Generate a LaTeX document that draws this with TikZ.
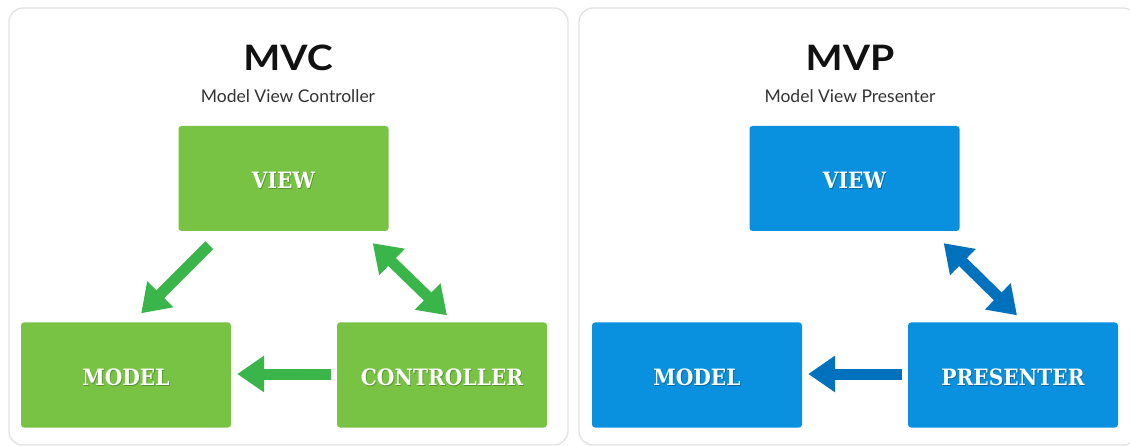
\documentclass[tikz,border=0pt]{standalone}
\usepackage{fontspec}
\usetikzlibrary{arrows.meta}
\setmainfont{Lato}
\newfontfamily\titlefont{Lato}
\newfontfamily\boxfont{DejaVu Serif Condensed}

\definecolor{panelline}{HTML}{E2E2E2}
\definecolor{mvcbox}{HTML}{78C244}
\definecolor{mvcarrow}{HTML}{39B54A}
\definecolor{mvcshade}{HTML}{55922F}
\definecolor{mvpbox}{HTML}{0990DE}
\definecolor{mvparrow}{HTML}{0071BC}
\definecolor{mvpshade}{HTML}{0B679F}
\definecolor{titleink}{HTML}{111111}
\definecolor{subink}{HTML}{333333}

% white label with a soft dark copy just below it
\newcommand{\shadowlabel}[2]{%
  \makebox[0pt][l]{\raisebox{-1.2pt}{\hspace{0.8pt}\textcolor{#1}{#2}}}%
  \textcolor{white}{#2}}

\tikzset{
  panel/.style={draw=panelline, line width=1.3pt, fill=white, rounded corners=14pt},
  block/.style={rounded corners=3pt, minimum width=210pt, minimum height=105pt,
    inner sep=0pt, text height=20pt, text depth=0pt,
    font=\boxfont\bfseries\fontsize{22.5}{25}\selectfont},
  mvcblock/.style={block, fill=mvcbox},
  mvpblock/.style={block, fill=mvpbox},
  heading/.style={font=\titlefont\bfseries\fontsize{35}{38}\selectfont, text=titleink, inner sep=0pt},
  subheading/.style={font=\fontsize{17.5}{20}\selectfont, text=subink, inner sep=0pt},
  flow/.style={line width=11pt, -{Triangle[width=35pt,length=27pt]}},
  twoway/.style={line width=11pt, {Triangle[width=35pt,length=27pt]}-{Triangle[width=35pt,length=27pt]}},
}

\begin{document}
\begin{tikzpicture}[x=1pt, y=-1pt]
\useasboundingbox (0,0) rectangle (1130,446);
\fill[white] (0,0) rectangle (1130,446);

% the two cards
\draw[panel] (9,8) rectangle (568,445);
\draw[panel] (579,8) rectangle (1137,445);

% ---- MVC ----
\node[heading] (mvctitle) at (288,58) {\scalebox{1.12}[1]{MVC}};
\node[subheading] (mvcsub) at (288,96) {Model View Controller};

\node[mvcblock] (cview) at (283.5,178.5) {\shadowlabel{mvcshade}{VIEW}};
\node[mvcblock] (cmodel) at (126,375) {\shadowlabel{mvcshade}{MODEL}};
\node[mvcblock] (cctrl) at (442,375) {\shadowlabel{mvcshade}{CONTROLLER}};

\draw[flow, draw=mvcarrow, fill=mvcarrow]
  ([shift={(31,14)}]cview.south west) -- ([shift={(-90,-9)}]cmodel.north east);
\draw[twoway, draw=mvcarrow, fill=mvcarrow]
  ([shift={(-16,12)}]cview.south east) -- ([shift={(5,-7)}]cctrl.north);
\draw[flow, draw=mvcarrow, fill=mvcarrow]
  ([shift={(-6,-1)}]cctrl.west) -- ([shift={(6,-1)}]cmodel.east);

% ---- MVP ----
\node[heading] (mvptitle) at (850,58) {\scalebox{1.12}[1]{MVP}};
\node[subheading] (mvpsub) at (850,96) {Model View Presenter};

\node[mvpblock] (pview) at (854.5,178.5) {\shadowlabel{mvpshade}{VIEW}};
\node[mvpblock] (pmodel) at (697,375) {\shadowlabel{mvpshade}{MODEL}};
\node[mvpblock] (ppres) at (1013,375) {\shadowlabel{mvpshade}{PRESENTER}};

\draw[twoway, draw=mvparrow, fill=mvparrow]
  ([shift={(-16,12)}]pview.south east) -- ([shift={(4,-7)}]ppres.north);
\draw[flow, draw=mvparrow, fill=mvparrow]
  ([shift={(-6,-1)}]ppres.west) -- ([shift={(6,-1)}]pmodel.east);
\end{tikzpicture}
\end{document}
